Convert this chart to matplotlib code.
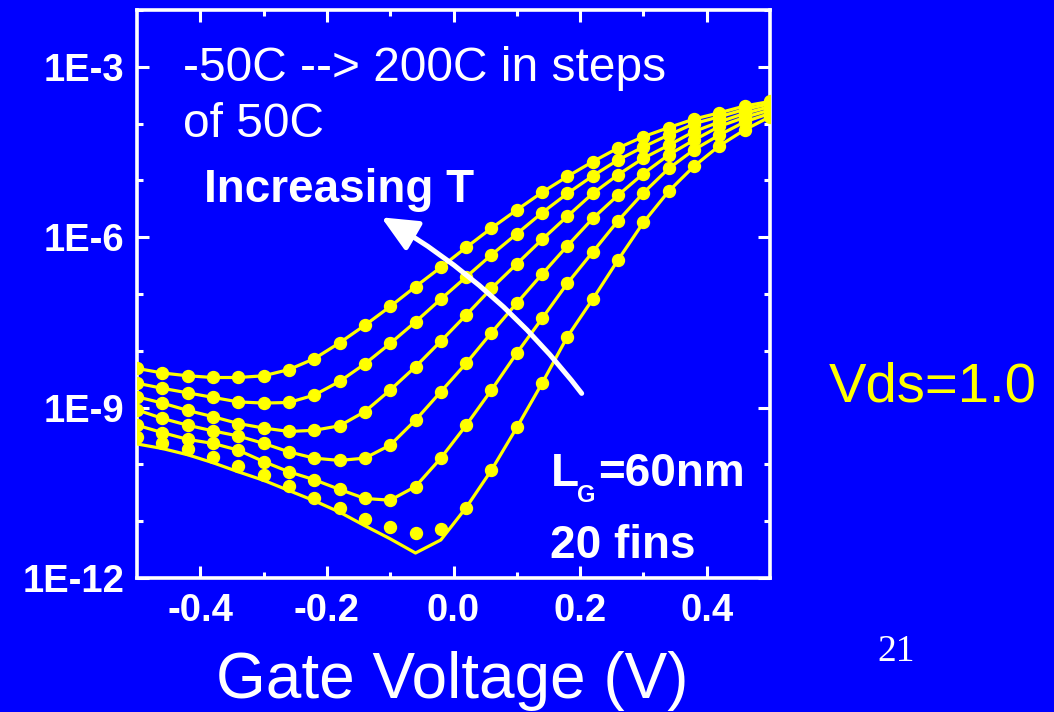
import matplotlib
matplotlib.use("Agg")
import matplotlib.pyplot as plt
from matplotlib.patches import FancyArrowPatch
from matplotlib.ticker import FixedLocator, FixedFormatter
import numpy as np

plt.rcParams['font.family'] = ['Liberation Sans', 'DejaVu Sans']

# ---------------- data ----------------
gate_v = [-0.50, -0.46, -0.42, -0.38, -0.34, -0.30, -0.26, -0.22, -0.18, -0.14,
          -0.10, -0.06, -0.02, 0.02, 0.06, 0.10, 0.14, 0.18, 0.22, 0.26,
          0.30, 0.34, 0.38, 0.42, 0.46, 0.50]

temperatures = ["200C", "150C", "100C", "50C", "0C", "-50C"]

# log10 of drain current (A), measured points
log_id_200 = [-8.31, -8.39, -8.44, -8.47, -8.47, -8.44, -8.33, -8.14, -7.86, -7.55,
              -7.22, -6.87, -6.53, -6.18, -5.84, -5.52, -5.21, -4.93, -4.67, -4.43,
              -4.23, -4.07, -3.92, -3.81, -3.69, -3.61]
log_id_150 = [-8.57, -8.66, -8.74, -8.82, -8.90, -8.92, -8.91, -8.78, -8.54, -8.23,
              -7.87, -7.49, -7.09, -6.70, -6.31, -5.94, -5.57, -5.23, -4.92, -4.64,
              -4.41, -4.20, -4.00, -3.88, -3.75, -3.65]
log_id_100 = [-8.81, -8.92, -9.05, -9.16, -9.28, -9.36, -9.42, -9.40, -9.32, -9.07,
              -8.69, -8.28, -7.83, -7.37, -6.90, -6.47, -6.04, -5.63, -5.23, -4.90,
              -4.61, -4.38, -4.14, -3.97, -3.82, -3.70]
log_id_50 = [-9.04, -9.19, -9.31, -9.41, -9.50, -9.63, -9.78, -9.89, -9.93, -9.89,
             -9.66, -9.22, -8.72, -8.22, -7.68, -7.16, -6.65, -6.15, -5.67, -5.26,
             -4.88, -4.55, -4.29, -4.05, -3.89, -3.76]
log_id_0 = [-9.31, -9.44, -9.56, -9.63, -9.75, -9.95, -10.13, -10.27, -10.44, -10.60,
            -10.63, -10.39, -9.89, -9.31, -8.69, -8.04, -7.43, -6.81, -6.26, -5.71,
            -5.22, -4.79, -4.46, -4.20, -3.97, -3.82]
log_id_m50 = [-9.51, -9.62, -9.73, -9.87, -10.02, -10.19, -10.38, -10.60, -10.77, -10.97,
              -11.11, -11.20, -11.14, -10.76, -10.10, -9.35, -8.57, -7.75, -7.09, -6.40,
              -5.74, -5.19, -4.75, -4.39, -4.11, -3.88]
# model curve for -50C (deviates from measurement at low Vg)
log_model_m50 = [-9.64, -9.72, -9.83, -9.97, -10.13, -10.28, -10.46, -10.64, -10.84, -11.08,
                 -11.31, -11.56, -11.33, -10.76, -10.10, -9.35, -8.57, -7.75, -7.09, -6.40,
                 -5.74, -5.19, -4.75, -4.39, -4.11, -3.88]

y_major = [1e-12, 1e-9, 1e-6, 1e-3]
y_major_labels = ["1E-12", "1E-9", "1E-6", "1E-3"]
x_major = [-0.4, -0.2, 0.0, 0.2, 0.4]
x_major_labels = ["-0.4", "-0.2", "0.0", "0.2", "0.4"]

# ---------------- style ----------------
BG = '#0000ff'
YEL = '#ffff00'
WHITE = '#ffffff'
W, H = 1054, 712

fig = plt.figure(figsize=(W / 100, H / 100), dpi=100, facecolor=BG)
ax = fig.add_axes([137 / W, 1 - 578 / H, 633 / W, 568 / H])
ax.set_facecolor(BG)


def fx(px):
    return px / W


def fy(py):
    return 1 - py / H


measured = [log_id_200, log_id_150, log_id_100, log_id_50, log_id_0, log_id_m50]
models = [log_id_200, log_id_150, log_id_100, log_id_50, log_id_0, log_model_m50]

x = np.array(gate_v)
for meas, mod in zip(measured, models):
    ax.plot(x, 10 ** np.array(mod), '-', color=YEL, lw=2.3, zorder=3,
            solid_joinstyle='round')
    ax.plot(x, 10 ** np.array(meas), 'o', color=YEL, ms=8.6, mec=YEL, zorder=4)

ax.set_yscale('log')
ax.set_xlim(-0.5, 0.5)
ax.set_ylim(1e-12, 1e-2)

ax.yaxis.set_major_locator(FixedLocator(y_major))
ax.yaxis.set_major_formatter(FixedFormatter(y_major_labels))
ax.yaxis.set_minor_locator(FixedLocator([10.0 ** e for e in range(-12, -1)]))
ax.yaxis.set_minor_formatter(FixedFormatter([]))
ax.xaxis.set_major_locator(FixedLocator(x_major))
ax.xaxis.set_major_formatter(FixedFormatter(x_major_labels))
ax.xaxis.set_minor_locator(FixedLocator([-0.3, -0.1, 0.1, 0.3]))

for sp in ax.spines.values():
    sp.set_color(WHITE)
    sp.set_linewidth(2.6)

ax.tick_params(which='both', direction='in', top=True, right=True,
               color=WHITE, width=2.2, labelcolor=WHITE)
ax.tick_params(which='major', length=8.5)
ax.tick_params(which='minor', length=4.5)
ax.tick_params(axis='y', which='major', pad=9, labelsize=27.5)
ax.tick_params(axis='x', which='major', pad=11, labelsize=27.5)
for lab in ax.get_xticklabels() + ax.get_yticklabels():
    lab.set_fontweight('bold')

# ---------------- annotations ----------------
fig.text(fx(183), fy(81), "-50C --> 200C in steps", color=WHITE, fontsize=34.5,
         ha='left', va='baseline')
fig.text(fx(183), fy(137), "of 50C", color=WHITE, fontsize=34.5,
         ha='left', va='baseline')
fig.text(fx(204), fy(202), "Increasing T", color=WHITE, fontsize=33,
         fontweight='bold', ha='left', va='baseline')

fig.text(fx(551), fy(486), "L", color=WHITE, fontsize=33, fontweight='bold',
         ha='left', va='baseline')
fig.text(fx(577), fy(502), "G", color=WHITE, fontsize=17, fontweight='bold',
         ha='left', va='baseline')
fig.text(fx(598), fy(486), "=60nm", color=WHITE, fontsize=33, fontweight='bold',
         ha='left', va='baseline')
fig.text(fx(550), fy(558), "20 fins", color=WHITE, fontsize=33, fontweight='bold',
         ha='left', va='baseline')

fig.text(fx(829), fy(402), "Vds=1.0", color=YEL, fontsize=40.5,
         ha='left', va='baseline')
fig.text(fx(877), fy(661), "21", color=WHITE, fontsize=27,
         family=['Liberation Serif', 'DejaVu Serif'], ha='left', va='baseline')
fig.text(fx(452), fy(698), "Gate Voltage (V)", color=WHITE, fontsize=46,
         ha='center', va='baseline')

arrow = FancyArrowPatch((0.7025, 0.325), (0.386, 0.635), transform=ax.transAxes,
                        connectionstyle="arc3,rad=0.1",
                        arrowstyle="-|>,head_length=22,head_width=10",
                        mutation_scale=1, color=WHITE, lw=3.6,
                        shrinkA=0, shrinkB=0, zorder=5)
ax.add_patch(arrow)

fig.savefig("out.png", dpi=100, facecolor=BG)
